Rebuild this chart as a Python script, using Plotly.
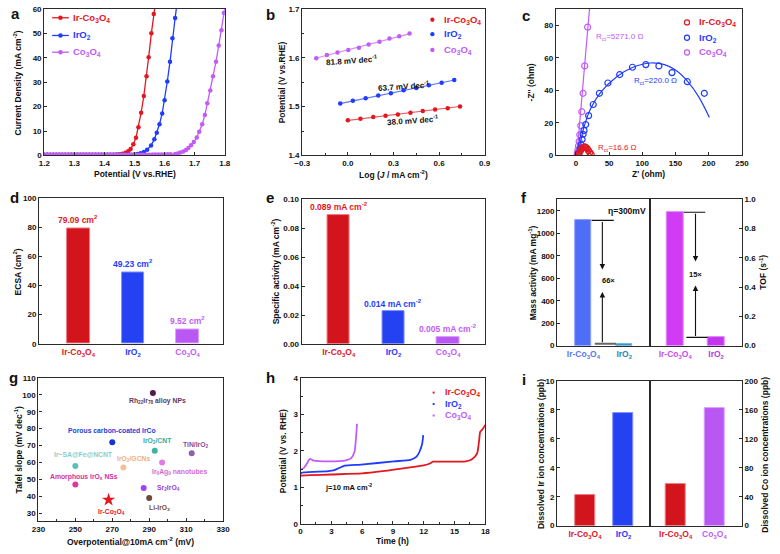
import plotly.graph_objects as go

W, H = 780, 554
FONT = "Liberation Sans"
RED = "#e3171f"; BLUE = "#1f3cff"; VIOLET = "#c25cf7"
RED_BAR = "#d2141d"; BLUE_BAR = "#2442f2"; VIOLET_BAR = "#b957f2"

def X(px): return px / W
def Y(py): return 1 - py / H

IRCO = "Ir-Co<sub>3</sub>O<sub>4</sub>"
IRO2 = "IrO<sub>2</sub>"
CO = "Co<sub>3</sub>O<sub>4</sub>"

# ---------------- (a) LSV ----------------
a_irco_v = [1.20,1.21,1.22,1.23,1.24,1.25,1.26,1.27,1.28,1.29,1.30,1.31,1.32,1.33,1.34,1.35,1.36,1.37,1.38,1.39,1.40,1.41,1.42,1.43,1.44,1.45,1.46,1.47,
            1.479,1.487,1.496,1.505,1.513,1.522,1.531,1.540,1.547,1.556,1.564,1.568]
a_irco_j = [0.3,0.3,0.3,0.3,0.3,0.3,0.3,0.3,0.3,0.3,0.3,0.3,0.3,0.3,0.3,0.3,0.3,0.3,0.3,0.3,0.3,0.3,0.32,0.35,0.4,0.5,0.7,1.1,
            1.7,2.7,4.6,7.3,11.6,17.5,24.4,32.4,40.2,50.0,57.9,61.0]
a_iro2_v = [1.20,1.21,1.22,1.23,1.24,1.25,1.26,1.27,1.28,1.29,1.30,1.31,1.32,1.33,1.34,1.35,1.36,1.37,1.38,1.39,1.40,1.41,1.42,1.43,1.44,1.45,1.46,1.47,1.48,1.49,1.50,1.51,1.52,
            1.531,1.542,1.555,1.566,1.574,1.583,1.592,1.600,1.609,1.618,1.626,1.635,1.640]
a_iro2_j = [0.3,0.3,0.3,0.3,0.3,0.3,0.3,0.3,0.3,0.3,0.3,0.3,0.3,0.3,0.3,0.3,0.3,0.3,0.3,0.3,0.3,0.3,0.3,0.3,0.3,0.3,0.3,0.3,0.32,0.35,0.4,0.6,0.9,
            1.4,2.4,4.1,6.7,9.3,12.8,17.2,22.6,30.3,38.4,48.0,56.3,61.0]
a_co_v = [1.20,1.21,1.22,1.23,1.24,1.25,1.26,1.27,1.28,1.29,1.30,1.31,1.32,1.33,1.34,1.35,1.36,1.37,1.38,1.39,1.40,1.41,1.42,1.43,1.44,1.45,1.46,1.47,1.48,1.49,1.50,1.51,1.52,1.53,1.54,1.55,1.56,1.57,1.58,1.59,1.60,1.61,1.62,
          1.635,1.644,1.652,1.662,1.671,1.679,1.688,1.697,1.707,1.715,1.725,1.734,1.742,1.752,1.761,1.771,1.780,1.789,1.797,1.801]
a_co_j = [0.3,0.3,0.3,0.3,0.3,0.3,0.3,0.3,0.3,0.3,0.3,0.3,0.3,0.3,0.3,0.3,0.3,0.3,0.3,0.3,0.3,0.3,0.3,0.3,0.3,0.3,0.3,0.3,0.3,0.3,0.3,0.3,0.3,0.32,0.33,0.35,0.36,0.38,0.4,0.42,0.45,0.48,0.5,
          0.6,0.8,1.2,1.6,2.3,3.1,4.2,5.5,7.4,9.7,12.8,16.6,21.4,26.6,32.4,38.4,45.0,51.3,58.3,61.0]

# ---------------- (b) Tafel ----------------
b_irco_x = [0.0, 0.083, 0.167, 0.248, 0.329, 0.412, 0.493, 0.574, 0.657, 0.738]
b_irco_y = [1.472, 1.4754, 1.4787, 1.4814, 1.4841, 1.4875, 1.4909, 1.4942, 1.4969, 1.5003]
b_iro2_x = [-0.05, 0.033, 0.117, 0.2, 0.283, 0.367, 0.45, 0.533, 0.617, 0.70]
b_iro2_y = [1.5063, 1.5120, 1.5170, 1.5226, 1.5275, 1.5333, 1.5382, 1.5439, 1.5488, 1.5545]
b_co_x = [-0.208, -0.138, -0.068, 0.003, 0.073, 0.137, 0.208, 0.274, 0.338, 0.406]
b_co_y = [1.5991, 1.6058, 1.6106, 1.6159, 1.6207, 1.6274, 1.6328, 1.6395, 1.6442, 1.6496]
b_slopes = ["38.0", "63.7", "81.8"]

# ---------------- (c) EIS ----------------
c_co_x = [2.0, 3.0, 4.0, 4.9, 5.9, 7.4, 8.9, 10.8, 13.3, 17.7]
c_co_y = [1.2, 3.3, 5.9, 8.7, 12.7, 18.4, 26.9, 38.2, 55.0, 78.8]
c_co_fit_x = [1.5, 20.5]
c_co_fit_y = [0.0, 90.0]
c_iro2_x = [3.9, 6.4, 7.9, 9.4, 10.8, 12.3, 14.8, 19.2, 26.1, 35.4, 48.2, 66.0, 85.2, 105.3, 125.0, 144.7, 167.8, 193.4]
c_iro2_y = [1.8, 4.2, 6.7, 9.9, 13.0, 15.4, 19.0, 24.5, 31.3, 38.2, 44.5, 49.7, 54.2, 55.8, 55.0, 50.9, 45.3, 38.2]
c_iro2_fit_x = [3, 4.8, 12.2, 22, 37, 61.5, 85, 112, 133.5, 150, 167.9, 185, 201]
c_iro2_fit_y = [0, 4.2, 17.4, 28.5, 38.6, 48.3, 54, 56.8, 55.8, 52.5, 45.7, 36, 23.4]
c_irco_x = [3, 5, 7, 9, 11, 13, 15, 17, 19, 21, 23]
c_irco_y = [0.5, 1.5, 3.0, 4.3, 5.0, 5.3, 5.0, 4.2, 3.0, 1.8, 0.8]
c_irco_fit_x = [2.5, 6, 10, 13, 16, 20, 24]
c_irco_fit_y = [0, 2.5, 4.8, 5.3, 4.7, 2.4, 0]
c_rct = ["16.6", "220.0", "5271.0"]

# ---------------- (d) ECSA, (e) specific activity ----------------
d_vals = [79.09, 49.23, 9.52]
d_labels = ["79.09 cm<sup>2</sup>", "49.23 cm<sup>2</sup>", "9.52 cm<sup>2</sup>"]
e_vals = [0.089, 0.0225, 0.005]
e_labels = ["0.089 mA cm<sup>-2</sup>", "0.014 mA cm<sup>-2</sup>", "0.005 mA cm<sup>-2</sup>"]

# ---------------- (f) mass activity / TOF ----------------
f_mass = [1115, 17]
f_tof = [0.91, 0.056]

# ---------------- (g) comparison ----------------
g_names = ["Rh<sub>22</sub>Ir<sub>78</sub> alloy NPs", "Porous carbon-coated IrCo", "IrO<sub>2</sub>/CNT", "TiN/IrO<sub>2</sub>",
           "Ir\u2212SA@Fe@NCNT", "IrO<sub>2</sub>/GCNs", "Ir<sub>6</sub>Ag<sub>9</sub> nanotubes", "Amorphous IrO<sub>x</sub> NSs",
           "Sr<sub>2</sub>IrO<sub>4</sub>", "Li-IrO<sub>x</sub>", IRCO]
g_eta = [292, 270, 293, 313, 250, 276, 297, 250, 287, 290, 268]
g_tafel = [101, 72, 67, 65.5, 58, 57, 60, 47, 45, 39, 38]
g_colors = ["#4e1d4e", "#1634d6", "#3fb3a2", "#8f5fae", "#5cc0b6", "#f3bf95", "#e27ae2", "#e0389e", "#9b45ef", "#6b4a36", "#e8161c"]
g_label_x = [294.5, 269.7, 294.3, 315.2, 254.3, 281.3, 306.5, 254.7, 300.5, 295.4, 269.7]
g_label_y = [96.4, 79.0, 72.5, 70.2, 65.0, 61.8, 54.6, 51.3, 44.7, 33.3, 30.9]
g_label_col = ["#5b3a5a", "#1a3fd8", "#3aa89a", "#8a4a9a", "#86cfc6", "#f0b080", "#d66ad6", "#d030a0", "#9a40e0", "#7a5030", "#e3171f"]

# ---------------- (h) stability ----------------
h_irco_t = [0, 1, 3, 6, 8, 10, 12, 12.6, 12.9, 14, 16.1, 16.7, 17.2, 17.4, 17.5, 17.7, 18]
h_irco_v = [1.32, 1.33, 1.35, 1.38, 1.44, 1.52, 1.60, 1.65, 1.70, 1.70, 1.71, 1.77, 1.93, 2.30, 2.52, 2.58, 2.71]
h_iro2_t = [0, 0.1, 0.5, 2.7, 3.3, 3.7, 4.3, 5.9, 9.1, 10.7, 11.3, 11.6, 11.85, 11.95]
h_iro2_v = [1.36, 1.40, 1.41, 1.44, 1.47, 1.52, 1.59, 1.62, 1.71, 1.75, 1.84, 1.98, 2.20, 2.43]
h_co_t = [0, 0.32, 0.64, 0.9, 1.27, 2.7, 4.3, 4.94, 5.26, 5.42, 5.5]
h_co_v = [1.48, 1.53, 1.66, 1.78, 1.73, 1.71, 1.73, 1.80, 1.98, 2.43, 2.74]

# ---------------- (i) dissolution ----------------
i_ir = [2.1, 7.8]
i_co = [57, 163]

# ================= figure =================
fig = go.Figure()
TF = dict(family=FONT, size=8, color="#111", weight="bold")
base = dict(showline=True, linecolor="#2a2a2a", linewidth=1.2, mirror=True, ticks="inside", ticklen=3,
            tickwidth=1, tickcolor="#2a2a2a", showgrid=False, zeroline=False, tickfont=TF)

def ax(**kw):
    d = dict(base); d.update(kw); return d

def span(c, t):
    return f'<span style="color:{c}">{t}</span>'

row1 = [Y(154), Y(5)]
cat_tick = dict(family=FONT, size=8.5, weight="bold")
lay = {}
lay["xaxis"] = ax(domain=[X(37), X(221)], range=[1.2, 1.8], anchor="y", dtick=0.1, tick0=1.2, tickformat=".1f")
lay["yaxis"] = ax(domain=row1, range=[0, 60], anchor="x", dtick=10)
lay["xaxis2"] = ax(domain=[X(300), X(486)], range=[-0.3, 0.9], anchor="y2", dtick=0.3, tick0=-0.3, tickformat=".1f", minor=dict(ticks="inside", ticklen=2, dtick=0.15))
lay["yaxis2"] = ax(domain=row1, range=[1.4, 1.7], anchor="x2", dtick=0.1, tickformat=".1f", minor=dict(ticks="inside", ticklen=2, dtick=0.05))
lay["xaxis3"] = ax(domain=[X(558.7), X(748.3)], range=[-30, 250], anchor="y3", tickvals=[0, 50, 100, 150, 200, 250])
lay["yaxis3"] = ax(domain=row1, range=[0, 90], anchor="x3", tickvals=[0, 20, 40, 60, 80])

lay["xaxis4"] = ax(domain=[X(31.7), X(219.3)], range=[-0.72, 2.65], anchor="y4", ticks="", tickvals=[0, 1, 2],
                   ticktext=[span(RED, IRCO), span(BLUE, IRO2), span(VIOLET, CO)], tickfont=cat_tick)
lay["yaxis4"] = ax(domain=[Y(345.3), Y(197.7)], range=[0, 100], anchor="x4", dtick=20)
lay["xaxis5"] = ax(domain=[X(299.3), X(486.7)], range=[-0.68, 2.68], anchor="y5", ticks="", tickvals=[0, 1, 2],
                   ticktext=[span(RED, IRCO), span(BLUE, IRO2), span(VIOLET, CO)], tickfont=cat_tick)
lay["yaxis5"] = ax(domain=[Y(345.7), Y(198.3)], range=[0, 0.1], anchor="x5", dtick=0.02, tickformat=".2f")

fy = [Y(347.3), Y(198.3)]
lay["xaxis6"] = ax(domain=[X(560), X(654.3)], range=[-0.642, 1.625], anchor="y6", ticks="", tickvals=[0, 1],
                   ticktext=[span("#5a78f0", IRCO), span("#2c8aa8", IRO2)], tickfont=cat_tick)
lay["yaxis6"] = ax(domain=fy, range=[0, 1305], anchor="x6", tickvals=[0, 200, 400, 600, 800, 1000, 1200])
lay["xaxis7"] = ax(domain=[X(654.3), X(748.3)], range=[-0.624, 1.631], anchor="y7", ticks="", tickvals=[0, 1],
                   ticktext=[span("#c84bf0", IRCO), span("#b43ce6", IRO2)], tickfont=cat_tick)
lay["yaxis7"] = ax(domain=fy, range=[0, 1.0], anchor="x7", side="right", dtick=0.2, tickformat=".1f")

lay["xaxis8"] = ax(domain=[X(31), X(219.3)], range=[230, 330], anchor="y8", dtick=20, tick0=230, minor=dict(ticks="inside", ticklen=2, dtick=10))
lay["yaxis8"] = ax(domain=[Y(525.5), Y(380)], range=[25.5, 110], anchor="x8", dtick=10, tick0=30)
lay["xaxis9"] = ax(domain=[X(298.3), X(486.7)], range=[0, 18], anchor="y9", dtick=3, minor=dict(ticks="inside", ticklen=2, dtick=1.5))
lay["yaxis9"] = ax(domain=[Y(528.3), Y(380)], range=[0, 4], anchor="x9", dtick=1, minor=dict(ticks="inside", ticklen=2, dtick=0.5))

iy = [Y(530.3), Y(383.3)]
lay["xaxis10"] = ax(domain=[X(560), X(654.3)], range=[-0.72, 1.68], anchor="y10", ticks="", tickvals=[0, 1],
                    ticktext=[span(RED, IRCO), span(BLUE, IRO2)], tickfont=cat_tick)
lay["yaxis10"] = ax(domain=iy, range=[0, 10], anchor="x10", dtick=2)
lay["xaxis11"] = ax(domain=[X(654.3), X(748.3)], range=[-0.67, 1.71], anchor="y11", ticks="", tickvals=[0, 1],
                    ticktext=[span(RED, IRCO), span(VIOLET, CO)], tickfont=cat_tick)
lay["yaxis11"] = ax(domain=iy, range=[0, 200], anchor="x11", side="right", dtick=40)

# ---- (a) traces
for xs, ys, c in [(a_irco_v, a_irco_j, RED), (a_iro2_v, a_iro2_j, BLUE), (a_co_v, a_co_j, VIOLET)]:
    fig.add_trace(go.Scatter(x=xs, y=ys, mode="lines+markers", line=dict(color=c, width=1.3),
                             marker=dict(color=c, size=4.5), xaxis="x", yaxis="y", showlegend=False))

# ---- (b) traces
for xs, ys, c in [(b_irco_x, b_irco_y, RED), (b_iro2_x, b_iro2_y, BLUE), (b_co_x, b_co_y, VIOLET)]:
    fig.add_trace(go.Scatter(x=[xs[0] - 0.01, xs[-1] + 0.01], y=[ys[0] - 0.0005, ys[-1] + 0.0005], mode="lines",
                             line=dict(color=c, width=1.2), opacity=0.7, xaxis="x2", yaxis="y2", showlegend=False))
    fig.add_trace(go.Scatter(x=xs, y=ys, mode="markers", marker=dict(color=c, size=4.5),
                             xaxis="x2", yaxis="y2", showlegend=False))

# ---- (c) traces
for fx, fyy, xs, ys, c in [(c_co_fit_x, c_co_fit_y, c_co_x, c_co_y, VIOLET),
                           (c_iro2_fit_x, c_iro2_fit_y, c_iro2_x, c_iro2_y, BLUE),
                           (c_irco_fit_x, c_irco_fit_y, c_irco_x, c_irco_y, RED)]:
    fig.add_trace(go.Scatter(x=fx, y=fyy, mode="lines", line=dict(color=c, width=1.2, shape="spline"),
                             xaxis="x3", yaxis="y3", showlegend=False))
    fig.add_trace(go.Scatter(x=xs, y=ys, mode="markers", marker=dict(symbol="circle-open", color=c, size=6, line=dict(width=1.2)),
                             xaxis="x3", yaxis="y3", showlegend=False))

# ---- bars
def bar(xs, ys, fills, lines, xa, ya, w):
    fig.add_trace(go.Bar(x=xs, y=ys, width=w, marker=dict(color=fills, line=dict(color=lines, width=1)),
                         xaxis=xa, yaxis=ya, showlegend=False))

LIGHTS = ["#f07a80", "#7f8fff", "#dca0ff"]
bar([0, 1, 2], d_vals, [RED_BAR, BLUE_BAR, VIOLET_BAR], LIGHTS, "x4", "y4", 0.41)
bar([0, 1, 2], e_vals, [RED_BAR, BLUE_BAR, VIOLET_BAR], LIGHTS, "x5", "y5", 0.41)
bar([0, 1], f_mass, ["#4f6ef7", "#3b8fc4"], ["#8aa0ff", "#6ab8d8"], "x6", "y6", 0.40)
bar([0, 1], f_tof, ["#d03cf5", "#c236f0"], ["#e48cff", "#e48cff"], "x7", "y7", 0.415)
bar([0, 1], i_ir, [RED_BAR, BLUE_BAR], [LIGHTS[0], LIGHTS[1]], "x10", "y10", 0.51)
bar([0, 1], i_co, [RED_BAR, VIOLET_BAR], [LIGHTS[0], LIGHTS[2]], "x11", "y11", 0.51)

# ---- (g) scatter
for i in range(len(g_names)):
    star = (i == len(g_names) - 1)
    fig.add_trace(go.Scatter(x=[g_eta[i]], y=[g_tafel[i]], mode="markers",
                             marker=dict(color=g_colors[i], size=10 if star else 6, symbol="star" if star else "circle"),
                             xaxis="x8", yaxis="y8", showlegend=False))

# ---- (h) lines
for xs, ys, c in [(h_irco_t, h_irco_v, RED), (h_iro2_t, h_iro2_v, BLUE), (h_co_t, h_co_v, VIOLET)]:
    fig.add_trace(go.Scatter(x=xs, y=ys, mode="lines", line=dict(color=c, width=1.8, shape="spline", smoothing=0.6),
                             xaxis="x9", yaxis="y9", showlegend=False))

ann = []
shapes = []

def txt(x, y, t, color="#111", size=8, bold=True, xref="paper", yref="paper", xanchor="center", angle=0):
    ann.append(dict(x=x, y=y, xref=xref, yref=yref, text=t, showarrow=False, xanchor=xanchor, yanchor="middle",
                    textangle=angle, font=dict(family=FONT, size=size, color=color, weight="bold" if bold else "normal")))

# panel letters
for L, px, py in [("a", 8, 10), ("b", 268, 11), ("c", 528, 12), ("d", 7, 197), ("e", 267, 197), ("f", 526, 197),
                  ("g", 6, 380), ("h", 268, 380), ("i", 526, 382)]:
    txt(X(px), Y(py), L, size=15)

# axis titles (placed as in the reference)
TS = 8.5
for t, px, py, ang in [
    ("Potential (V vs.RHE)", 129, 173, 0), ("Current Density (mA cm<sup>-2</sup>)", 10, 80, -90),
    ("Log (<i>J</i> / mA cm<sup>-2</sup>)", 393, 173, 0), ("Potential (V vs.RHE)", 279, 80, -90),
    ("Z' (ohm)", 653, 173, 0), ("-Z'' (ohm)", 533, 80, -90),
    ("ECSA (cm<sup>2</sup>)", 10, 272, -90), ("Specific activity (mA cm<sup>-2</sup>)", 273, 272, -90),
    ("Mass activity (mA mg<sup>-1</sup>)", 535, 273, -90), ("TOF (s<sup>-1</sup>)", 770, 273, -90),
    ("Overpotential@10mA cm<sup>-2</sup> (mV)", 125, 546, 0), ("Tafel slope (mV dec<sup>-1</sup>)", 11, 453, -90),
    ("Time (h)", 392.5, 546, 0), ("Potential (V vs. RHE)", 280, 455, -90),
    ("Dissolved Ir ion concentrations (ppb)", 543, 458, -90), ("Dissolved Co ion concentrations (ppb)", 771, 458, -90)]:
    txt(X(px), Y(py), t, size=TS, angle=ang)

# manual legends
names3 = [IRCO, IRO2, CO]
cols3 = [RED, BLUE, VIOLET]
def circ(cx, cy, r, color, fill=True, lw=1.2):
    shapes.append(dict(type="circle", xref="paper", yref="paper", x0=X(cx - r), x1=X(cx + r), y0=Y(cy + r), y1=Y(cy - r),
                       fillcolor=color if fill else "rgba(0,0,0,0)", line=dict(color=color, width=lw if not fill else 0)))
for k in range(3):
    yy = [14, 32, 49][k]
    shapes.append(dict(type="line", xref="paper", yref="paper", x0=X(45), x1=X(62), y0=Y(yy), y1=Y(yy), line=dict(color=cols3[k], width=1.3)))
    circ(53.5, yy, 2.3, cols3[k])
    txt(X(64), Y(yy), names3[k], color=cols3[k], size=9.5, xanchor="left")
    yy = [16, 30.7, 46.7][k]
    circ(432.7, yy, 2.2, cols3[k])
    txt(X(442.3), Y(yy), names3[k], color=cols3[k], size=9.5, xanchor="left")
    yy = [18.7, 34.3, 49.3][k]
    circ(692.3, yy, 2.6, cols3[k], fill=False)
    txt(X(702.3), Y(yy), names3[k], color=cols3[k], size=9.5, xanchor="left")
    yy = [395, 406.7, 418.3][k]
    shapes.append(dict(type="rect", xref="paper", yref="paper", x0=X(433), x1=X(435), y0=Y(yy + 1), y1=Y(yy - 1),
                       fillcolor=cols3[k], line=dict(width=0)))
    txt(X(443.3), Y(yy), names3[k], color=cols3[k], size=9, xanchor="left")

# (b) slope labels
for s, x, y in zip(b_slopes, [0.427, 0.363, 0.027], [1.4735, 1.542, 1.5957]):
    txt(x, y, f"{s} mV dec<sup>-1</sup>", size=8, xref="x2", yref="y2", angle=-4)

# (c) Rct labels
for s, x, y, c in zip(c_rct, [31, 85.2, 27.6], [4.8, 45.7, 72.5], [RED, BLUE, VIOLET]):
    txt(x, y, f"R<sub>ct</sub>={s} \u03a9", color=c, size=8, bold=False, xref="x3", yref="y3", xanchor="left")

# (d), (e) value labels
for k in range(3):
    txt(k, d_vals[k] + 6.3, d_labels[k], color=cols3[k], size=8.5, xref="x4", yref="y4")
    txt(k, e_vals[k] + 0.0058, e_labels[k], color=cols3[k], size=8.5, xref="x5", yref="y5")

# (f) annotations
txt(1.08, 1202, "\u03b7=300mV", size=8.5, xref="x6", yref="y6")
shapes.append(dict(type="line", xref="x6", yref="y6", x0=0.2, x1=0.745, y0=f_mass[0], y1=f_mass[0], line=dict(color="#111", width=1.2)))
shapes.append(dict(type="line", xref="x6", yref="y6", x0=0.279, x1=0.80, y0=f_mass[1], y1=f_mass[1], line=dict(color="#666", width=2)))
for (ya, yh) in [(f_mass[0], 677), (f_mass[1], 478)]:
    ann.append(dict(x=0.464, y=yh, ax=0.464, ay=ya, xref="x6", yref="y6", axref="x6", ayref="y6", text="",
                    showarrow=True, arrowhead=2, arrowsize=1, arrowwidth=1.1, arrowcolor="#111"))
txt(0.62, 578, "66\u00d7", size=7.5, xref="x6", yref="y6")
shapes.append(dict(type="line", xref="x7", yref="y7", x0=0.2075, x1=0.736, y0=f_tof[0], y1=f_tof[0], line=dict(color="#111", width=1.2)))
shapes.append(dict(type="line", xref="x7", yref="y7", x0=0.273, x1=0.79, y0=f_tof[1], y1=f_tof[1], line=dict(color="#111", width=1.2)))
for (ya, yh) in [(f_tof[0], 0.5745), (f_tof[1], 0.411)]:
    ann.append(dict(x=0.496, y=yh, ax=0.496, ay=ya, xref="x7", yref="y7", axref="x7", ayref="y7", text="",
                    showarrow=True, arrowhead=2, arrowsize=1, arrowwidth=1.1, arrowcolor="#111"))
txt(0.496, 0.488, "15\u00d7", size=7.5, xref="x7", yref="y7")

# (g) labels
for k in range(len(g_names)):
    txt(g_label_x[k], g_label_y[k], g_names[k], color=g_label_col[k], size=6.8, xref="x8", yref="y8")

# (h) text
txt(4.65, 1.0, "j=10 mA cm<sup>-2</sup>", size=7.5, xref="x9", yref="y9")

lay.update(dict(width=W, height=H, margin=dict(l=0, r=0, t=0, b=0), paper_bgcolor="white", plot_bgcolor="white",
                annotations=ann, shapes=shapes, showlegend=False, bargap=0, font=dict(family=FONT)))
fig.update_layout(**lay)
fig.write_html("out.html", config={"displayModeBar": False},
               post_script="document.body.style.margin='0';document.body.style.overflow='hidden';")
